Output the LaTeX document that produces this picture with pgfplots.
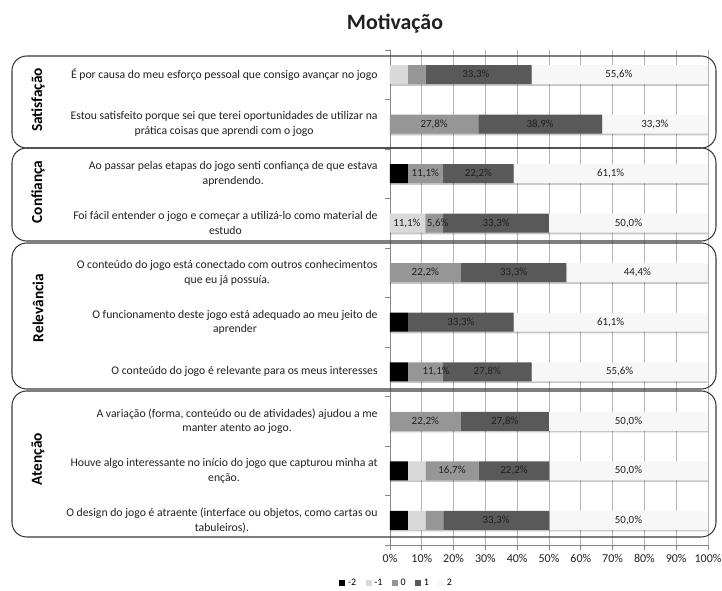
\documentclass[border=0pt]{standalone}
\usepackage{pgfplots}
\pgfplotsset{compat=1.18}
\usetikzlibrary{shadows}
\usepackage{fontspec}
\setmainfont{Carlito}
\definecolor{cA}{HTML}{000000}
\definecolor{cB}{HTML}{D9D9D9}
\definecolor{cC}{HTML}{969696}
\definecolor{cD}{HTML}{595959}
\definecolor{cE}{HTML}{F7F7F7}
\definecolor{gridc}{HTML}{B4B4B4}
\definecolor{axc}{HTML}{868686}
\definecolor{boxc}{HTML}{3A3A3A}
\definecolor{txt}{HTML}{202020}
\newcommand{\pxy}[2]{({(#1)*0.75pt},{(590-(#2))*0.75pt})}
\pgfplotsset{
  common/.style={
    at={(292.5pt,33.75pt)}, anchor=south west,
    scale only axis, width=238.5pt, height=371.25pt,
    xmin=0, xmax=100, ymin=0.5, ymax=10.5},
  shad/.style={drop shadow={shadow xshift=0pt, shadow yshift=-1.3pt, fill=black, opacity=0.22}},
}
\begin{document}
\begin{tikzpicture}
\path[use as bounding box] (0,0) rectangle (541.5pt,442.5pt);
\begin{axis}[
  common,
  xbar stacked, bar width=14.25pt,
  axis lines=left, axis line style={-, draw=axc, line width=0.6pt},
  xmajorgrids, grid style={gridc, line width=0.6pt},
  xtick={0,10,...,100},
  xticklabels={0\%,10\%,20\%,30\%,40\%,50\%,60\%,70\%,80\%,90\%,100\%},
  tick align=outside, major tick length=3.75pt,
  xtick style={draw=axc, line width=0.6pt},
  ytick={1,...,10}, ytick style={draw=none},
  yticklabels={
    {O design do jogo é atraente (interface ou objetos, como cartas ou\\tabuleiros).},
    {Houve algo interessante no início do jogo que capturou minha at\\enção.},
    {A variação (forma, conteúdo ou de atividades) ajudou a me\\manter atento ao jogo.},
    {O conteúdo do jogo é relevante para os meus interesses},
    {O funcionamento deste jogo está adequado ao meu jeito de\\aprender},
    {O conteúdo do jogo está conectado com outros conhecimentos\\que eu já possuía.},
    {Foi fácil entender o jogo e começar a utilizá-lo como material de\\estudo},
    {Ao passar pelas etapas do jogo senti confiança de que estava\\aprendendo.},
    {Estou satisfeito  porque sei que terei oportunidades de utilizar na\\prática coisas que aprendi com o jogo},
    {É por causa do meu esforço pessoal que consigo avançar no jogo}},
  yticklabel style={align=center, font=\fontsize{8.8}{11}\selectfont, text=txt, xshift=-2pt},
  xticklabel style={font=\fontsize{9}{10}\selectfont, text=txt},
]
\addplot[fill=cA, draw=none, shad] coordinates {
 (5.6,1) (5.6,2) (0,3) (5.6,4) (5.6,5) (0,6) (0,7) (5.6,8) (0,9) (0,10)};
\addplot[fill=cB, draw=none, shad] coordinates {
 (5.6,1) (5.6,2) (0,3) (0,4) (0,5) (0,6) (11.1,7) (0,8) (0,9) (5.6,10)};
\addplot[fill=cC, draw=none, shad] coordinates {
 (5.6,1) (16.7,2) (22.2,3) (11.1,4) (0,5) (22.2,6) (5.6,7) (11.1,8) (27.8,9) (5.6,10)};
\addplot[fill=cD, draw=none, shad] coordinates {
 (33.3,1) (22.2,2) (27.8,3) (27.8,4) (33.3,5) (33.3,6) (33.3,7) (22.2,8) (38.9,9) (33.3,10)};
\addplot[fill=cE, draw=none, shad] coordinates {
 (50.0,1) (50.0,2) (50.0,3) (55.6,4) (61.1,5) (44.4,6) (50.0,7) (61.1,8) (33.3,9) (55.6,10)};
\end{axis}
% value labels (centred on their segments) and legend
\begin{axis}[common, hide axis,
  legend style={at={(0.022,-0.077)}, anchor=center, legend columns=5, draw=none,
    font=\fontsize{7.5}{8}\selectfont, inner sep=1pt,
    /tikz/every even column/.append style={column sep=5pt}},
  legend image code/.code={\fill[#1,draw=none] (0pt,-2.3pt) rectangle (4.6pt,2.3pt);},
]
\addlegendimage{fill=cA}
\addlegendimage{fill=cB}
\addlegendimage{fill=cC}
\addlegendimage{fill=cD}
\addlegendimage{fill=cE}
\addplot[draw=none, mark=none, forget plot, point meta=explicit symbolic,
  nodes near coords={\pgfplotspointmeta}, nodes near coords align={anchor=center},
  nodes near coords style={font=\fontsize{8.2}{9}\selectfont, text=txt, inner sep=0pt}]
 coordinates {
 (27.0,10) [33,3\%] (72.0,10) [55,6\%]
 (13.9,9) [27,8\%] (47.2,9) [38,9\%] (83.3,9) [33,3\%]
 (11.1,8) [11,1\%] (27.8,8) [22,2\%] (69.4,8) [61,1\%]
 (5.3,7) [11,1\%] (15.0,7) [5,6\%] (33.4,7) [33,3\%] (75.0,7) [50,0\%]
 (11.1,6) [22,2\%] (38.9,6) [33,3\%] (77.8,6) [44,4\%]
 (22.3,5) [33,3\%] (69.4,5) [61,1\%]
 (14.5,4) [11,1\%] (30.6,4) [27,8\%] (72.2,4) [55,6\%]
 (11.1,3) [22,2\%] (36.1,3) [27,8\%] (75.0,3) [50,0\%]
 (19.5,2) [16,7\%] (39.0,2) [22,2\%] (75.0,2) [50,0\%]
 (33.4,1) [33,3\%] (75.0,1) [50,0\%]};
\legend{-2,-1,0,1,2}
\end{axis}
% y-axis boundary ticks
\foreach \k in {0,...,10} \draw[axc, line width=0.6pt] \pxy{385}{50+49.5*\k} -- \pxy{390}{50+49.5*\k};
% title
\node[font=\bfseries\fontsize{16.4}{19}\selectfont, text=txt] at \pxy{395}{24} {Motivação};
% group boxes
\begin{scope}[boxc, line width=0.8pt, rounded corners=11pt]
\draw \pxy{12}{56} rectangle \pxy{716}{148};
\draw \pxy{12}{148} rectangle \pxy{716}{241};
\draw \pxy{12}{243} rectangle \pxy{716}{389};
\draw \pxy{12}{391} rectangle \pxy{716}{537};
\end{scope}
\begin{scope}[font=\bfseries\fontsize{11.5}{13}\selectfont, text=black]
\node[rotate=90] at \pxy{38}{100} {Satisfação};
\node[rotate=90] at \pxy{38}{192} {Confiança};
\node[rotate=90] at \pxy{38}{308} {Relevância};
\node[rotate=90] at \pxy{38}{459} {Atenção};
\end{scope}
\end{tikzpicture}
\end{document}
